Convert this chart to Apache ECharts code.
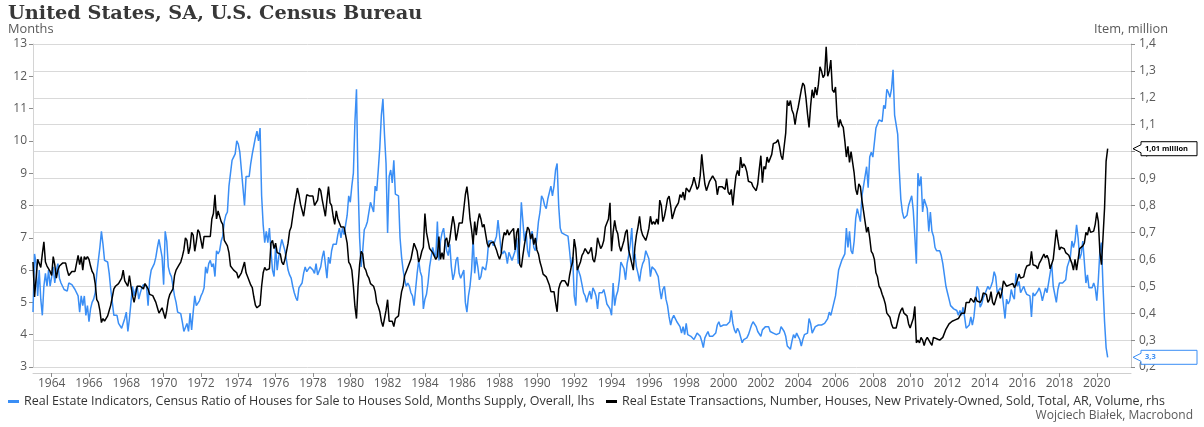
<!DOCTYPE html>
<html>
<head>
<meta charset="utf-8">
<script src="https://cdn.jsdelivr.net/npm/echarts@6/dist/echarts.min.js"></script>
<style>
  html, body { margin: 0; padding: 0; background: #fff; }
  #chart { width: 1204px; height: 427px; }
</style>
</head>
<body>
<div id="chart"></div>
<script>
// months supply (lhs), one row per year from 1963
var monthsSupply = [
  4.7, 6.5, 6.2, 5.2, 6.0, 5.1, 4.6, 5.5, 5.9, 5.5, 6.0, 5.5,
  5.8, 6.1, 5.6, 6.0, 6.2, 5.75, 5.6, 5.5, 5.4, 5.35, 5.35, 5.6,
  5.6, 5.55, 5.6, 5.4, 5.45, 5.2, 4.7, 5.2, 4.9, 5.2, 4.6, 4.9,
  4.4, 4.8, 5.0, 5.1, 5.3, 5.9, 5.9, 6.7, 7.2, 6.8, 6.3, 6.3,
  6.25, 5.9, 5.4, 5.0, 4.6, 4.6, 4.6, 4.35, 4.35, 4.2, 4.15, 4.5,
  4.7, 4.1, 4.5, 5.0, 5.5, 5.2, 5.4, 5.5, 5.1, 5.3, 5.45, 5.55,
  5.5, 5.5, 4.9, 5.7, 6.0, 6.1, 6.2, 6.4, 6.7, 6.95, 7.0, 6.4,
  5.55, 7.2, 6.9, 6.1, 5.9, 5.8, 5.5, 5.2, 5.0, 4.7, 4.65, 4.65,
  4.4, 4.1, 4.05, 4.35, 4.1, 4.67, 4.15, 4.7, 5.2, 4.9, 4.9, 5.05,
  5.2, 5.3, 5.45, 6.1, 5.9, 6.2, 6.3, 6.1, 6.2, 5.8, 6.6, 6.5,
  6.6, 6.9, 7.05, 7.5, 7.7, 7.8, 8.6, 9.0, 9.4, 9.5, 9.6, 10.0,
  9.9, 9.65, 9.1, 9.1, 8.0, 8.9, 8.9, 8.9, 9.3, 9.6, 9.85, 10.1,
  10.3, 10.0, 10.4, 8.3, 7.4, 6.85, 7.2, 6.85, 7.3, 6.6, 6.0, 5.8,
  6.75, 6.0, 6.4, 6.7, 6.95, 6.9, 6.6, 6.3, 6.0, 5.85, 5.75, 5.5,
  5.3, 5.15, 5.05, 5.45, 5.5, 5.6, 5.9, 6.1, 5.95, 6.0, 6.1, 6.05,
  6.0, 5.9, 6.2, 5.85, 5.9, 6.1, 6.4, 6.6, 6.55, 5.75, 6.4, 6.2,
  6.6, 6.8, 6.8, 6.8, 7.1, 7.3, 7.0, 7.3, 7.1, 7.4, 7.7, 8.3,
  8.1, 8.6, 9.0, 10.6, 11.6, 8.7, 7.0, 6.1, 6.6, 7.25, 7.35, 7.5,
  7.8, 8.1, 8.15, 7.8, 8.6, 8.45, 9.1, 9.8, 10.8, 11.3, 10.2, 9.3,
  7.15, 8.9, 9.1, 8.7, 9.4, 8.35, 8.35, 8.3, 7.0, 6.4, 6.0, 5.7,
  5.5, 5.6, 5.5, 5.3, 5.2, 4.9, 5.4, 5.9, 6.3, 5.95, 5.8, 4.8,
  5.1, 5.25, 5.6, 6.1, 6.1, 6.7, 6.5, 6.4, 7.5, 6.3, 6.9, 7.15,
  7.3, 6.9, 6.6, 6.45, 6.8, 6.1, 5.7, 5.9, 6.3, 6.4, 5.9, 5.75,
  5.75, 6.0, 5.0, 4.7, 5.2, 5.5, 6.0, 7.0, 5.9, 6.4, 6.1, 5.7,
  5.8, 6.1, 6.1, 6.0, 6.3, 6.9, 6.85, 6.9, 6.75, 6.9, 7.05, 7.55,
  7.5, 6.6, 6.5, 6.6, 6.5, 6.2, 6.55, 6.5, 6.3, 6.25, 6.6, 7.0,
  6.2, 6.9, 8.1, 7.5, 6.9, 7.2, 6.6, 6.4, 7.1, 7.2, 6.7, 6.6,
  7.0, 7.5, 7.8, 8.3, 8.2, 8.0, 7.9, 8.2, 8.4, 8.6, 8.3, 8.6,
  9.1, 9.3, 8.0, 7.3, 7.15, 7.1, 7.1, 7.1, 7.05, 6.6, 6.1, 6.4,
  5.2, 4.9, 6.1, 6.05, 5.8, 5.85, 5.3, 5.2, 5.0, 5.2, 5.35, 5.1,
  5.45, 5.35, 5.2, 4.8, 5.3, 5.25, 5.3, 5.4, 5.2, 4.95, 4.9, 4.8,
  4.6, 5.6, 4.9, 5.2, 5.35, 5.7, 6.25, 6.2, 6.05, 5.7, 6.2, 6.45,
  6.8, 7.3, 6.3, 6.5, 6.1, 5.9, 5.65, 6.0, 6.2, 6.3, 6.6, 6.6,
  6.35, 5.8, 6.1, 6.1, 6.0, 6.0, 5.8, 5.4, 5.1, 5.4, 5.5, 5.1,
  4.9, 4.55, 4.3, 4.5, 4.6, 4.5, 4.4, 4.35, 4.25, 4.05, 4.25, 4.0,
  4.35, 4.0, 4.05, 3.95, 3.9, 3.85, 3.95, 4.05, 4.05, 3.95, 3.8, 3.6,
  3.9, 4.0, 4.1, 3.95, 4.0, 3.95, 4.0, 4.05, 4.3, 4.4, 4.25, 4.3,
  4.3, 4.3, 4.3, 4.35, 4.4, 4.75, 4.35, 4.15, 4.05, 4.2, 4.1, 4.1,
  3.75, 3.85, 3.8, 3.9, 4.0, 4.15, 4.3, 4.4, 4.35, 4.25, 4.1, 4.1,
  3.95, 4.15, 4.1, 4.25, 4.2, 4.25, 4.1, 4.15, 4.05, 4.0, 4.0, 4.0,
  4.05, 4.25, 4.3, 4.1, 3.95, 3.65, 3.65, 3.55, 3.8, 4.0, 3.9, 4.05,
  3.95, 3.85, 3.65, 3.85, 4.0, 3.95, 4.05, 4.5, 4.35, 4.05, 4.05, 4.25,
  4.2, 4.3, 4.25, 4.3, 4.25, 4.35, 4.3, 4.5, 4.7, 4.6, 4.8, 5.0,
  5.2, 5.6, 6.0, 5.95, 6.3, 6.3, 6.5, 7.3, 6.7, 7.2, 6.6, 6.5,
  6.9, 7.6, 7.9, 7.7, 7.5, 8.3, 8.6, 8.6, 9.2, 8.55, 9.5, 9.65,
  9.5, 9.55, 10.4, 10.35, 10.65, 10.7, 10.6, 11.1, 11.0, 11.6, 11.5, 11.35,
  11.6, 12.2, 10.8, 10.85, 10.2, 9.1, 8.2, 7.8, 7.6, 7.6, 7.7, 8.0,
  8.05, 8.3, 7.85, 7.05, 6.2, 9.0, 8.6, 8.9, 7.8, 8.2, 8.25, 7.9,
  7.2, 7.8, 7.2, 7.05, 6.7, 6.6, 6.65, 6.6, 6.45, 6.2, 5.85, 5.5,
  5.3, 5.1, 4.9, 4.85, 4.8, 4.8, 4.75, 4.6, 4.75, 4.6, 4.85, 4.55,
  4.2, 4.15, 4.3, 4.55, 4.3, 4.55, 4.6, 5.5, 5.4, 4.85, 4.95, 5.15,
  5.25, 5.2, 5.5, 5.4, 5.5, 5.65, 5.95, 5.8, 5.3, 5.25, 5.45, 5.35,
  5.3, 4.5, 5.1, 4.95, 5.05, 5.4, 5.2, 5.1, 5.9, 5.5, 5.65, 5.3,
  5.4, 5.5, 5.35, 5.25, 5.2, 5.2, 4.55, 5.3, 5.2, 5.2, 5.35, 5.45,
  5.3, 5.05, 5.25, 5.45, 5.3, 5.35, 5.9, 6.2, 5.5, 5.45, 5.0, 5.4,
  5.6, 5.55, 5.6, 5.65, 5.7, 6.1, 6.1, 6.4, 6.9, 6.7, 6.9, 7.4,
  7.0, 6.35, 6.5, 6.9, 6.9, 5.6, 5.85, 5.45, 5.4, 5.45, 5.6, 5.45,
  5.05, 5.7, 6.6, 6.85, 5.5, 4.4, 3.6, 3.3
];

// new houses sold, million, annual rate (rhs)
var newHomeSales = [
  0.59, 0.46, 0.46, 0.6, 0.585, 0.57, 0.62, 0.665, 0.59, 0.575, 0.575, 0.555,
  0.54, 0.61, 0.58, 0.53, 0.56, 0.575, 0.58, 0.586, 0.59, 0.586, 0.56, 0.54,
  0.535, 0.555, 0.56, 0.555, 0.55, 0.615, 0.58, 0.61, 0.56, 0.61, 0.6, 0.61,
  0.6, 0.575, 0.555, 0.545, 0.51, 0.45, 0.44, 0.41, 0.365, 0.38, 0.37, 0.375,
  0.39, 0.41, 0.43, 0.46, 0.49, 0.5, 0.5, 0.51, 0.52, 0.53, 0.56, 0.52,
  0.51, 0.5, 0.54, 0.5, 0.465, 0.44, 0.47, 0.5, 0.495, 0.5, 0.5, 0.49,
  0.51, 0.5, 0.49, 0.47, 0.465, 0.465, 0.46, 0.44, 0.42, 0.4, 0.4, 0.42,
  0.425, 0.38, 0.41, 0.45, 0.47, 0.48, 0.49, 0.54, 0.56, 0.56, 0.58, 0.59,
  0.61, 0.635, 0.68, 0.67, 0.62, 0.645, 0.7, 0.69, 0.63, 0.665, 0.71, 0.7,
  0.7, 0.64, 0.685, 0.68, 0.685, 0.685, 0.685, 0.75, 0.77, 0.84, 0.75, 0.78,
  0.78, 0.74, 0.73, 0.67, 0.66, 0.65, 0.625, 0.575, 0.57, 0.56, 0.56, 0.55,
  0.53, 0.525, 0.55, 0.55, 0.59, 0.55, 0.535, 0.53, 0.505, 0.495, 0.46, 0.43,
  0.42, 0.42, 0.43, 0.5, 0.55, 0.57, 0.56, 0.565, 0.565, 0.66, 0.67, 0.64,
  0.66, 0.625, 0.62, 0.62, 0.59, 0.58, 0.6, 0.6, 0.66, 0.705, 0.72, 0.76,
  0.8, 0.83, 0.865, 0.84, 0.805, 0.805, 0.76, 0.8, 0.84, 0.835, 0.835, 0.835,
  0.835, 0.8, 0.805, 0.82, 0.865, 0.855, 0.82, 0.79, 0.76, 0.82, 0.87, 0.81,
  0.8, 0.76, 0.73, 0.78, 0.75, 0.735, 0.72, 0.725, 0.72, 0.725, 0.66, 0.59,
  0.58, 0.56, 0.5, 0.425, 0.38, 0.5, 0.58, 0.63, 0.62, 0.57, 0.56, 0.54,
  0.53, 0.51, 0.51, 0.5, 0.48, 0.44, 0.425, 0.405, 0.37, 0.35, 0.38, 0.41,
  0.45, 0.37, 0.37, 0.37, 0.35, 0.38, 0.375, 0.39, 0.44, 0.48, 0.5, 0.54,
  0.555, 0.57, 0.565, 0.6, 0.63, 0.66, 0.66, 0.63, 0.59, 0.605, 0.63, 0.645,
  0.77, 0.7, 0.695, 0.64, 0.64, 0.625, 0.62, 0.6, 0.61, 0.685, 0.6, 0.625,
  0.6, 0.67, 0.68, 0.645, 0.675, 0.72, 0.76, 0.73, 0.67, 0.7, 0.735, 0.735,
  0.735, 0.735, 0.84, 0.87, 0.82, 0.75, 0.71, 0.655, 0.74, 0.69, 0.74, 0.77,
  0.75, 0.72, 0.73, 0.73, 0.66, 0.645, 0.66, 0.66, 0.665, 0.66, 0.635, 0.615,
  0.6, 0.62, 0.67, 0.7, 0.69, 0.71, 0.69, 0.7, 0.705, 0.715, 0.635, 0.7,
  0.715, 0.58, 0.57, 0.615, 0.655, 0.65, 0.72, 0.71, 0.675, 0.695, 0.655, 0.68,
  0.635, 0.62, 0.59, 0.57, 0.545, 0.54, 0.535, 0.53, 0.505, 0.48, 0.48, 0.48,
  0.44, 0.405, 0.49, 0.51, 0.52, 0.52, 0.52, 0.525, 0.5, 0.54, 0.57, 0.59,
  0.675, 0.64, 0.56, 0.555, 0.59, 0.615, 0.625, 0.64, 0.645, 0.62, 0.63, 0.645,
  0.6, 0.59, 0.62, 0.68, 0.66, 0.64, 0.65, 0.67, 0.72, 0.735, 0.75, 0.81,
  0.63, 0.7, 0.745, 0.71, 0.695, 0.65, 0.63, 0.65, 0.67, 0.7, 0.71, 0.635,
  0.61, 0.585, 0.56, 0.645, 0.69, 0.72, 0.76, 0.71, 0.69, 0.69, 0.67, 0.69,
  0.715, 0.76, 0.73, 0.74, 0.73, 0.75, 0.73, 0.82, 0.8, 0.74, 0.76, 0.79,
  0.825, 0.835, 0.8, 0.75, 0.77, 0.79, 0.8, 0.81, 0.84, 0.83, 0.85, 0.82,
  0.865, 0.865, 0.85, 0.855, 0.88, 0.905, 0.9, 0.86, 0.87, 0.91, 0.99, 0.93,
  0.88, 0.855, 0.86, 0.89, 0.9, 0.91, 0.91, 0.89, 0.84, 0.87, 0.87, 0.87,
  0.865, 0.86, 0.9, 0.85, 0.84, 0.86, 0.8, 0.86, 0.91, 0.93, 0.91, 0.98,
  0.94, 0.955, 0.945, 0.925, 0.89, 0.885, 0.885, 0.87, 0.865, 0.855, 0.88, 0.935,
  0.985, 0.885, 0.945, 0.935, 0.98, 0.96, 0.965, 0.99, 1.03, 1.025, 1.035, 1.045,
  1.02, 0.985, 0.97, 1.02, 1.07, 1.19, 1.17, 1.19, 1.155, 1.14, 1.1, 1.14,
  1.165, 1.17, 1.23, 1.255, 1.245, 1.2, 1.14, 1.09, 1.17, 1.23, 1.2, 1.24,
  1.21, 1.25, 1.315, 1.3, 1.275, 1.285, 1.39, 1.28, 1.3, 1.34, 1.23, 1.22,
  1.24, 1.13, 1.09, 1.12, 1.1, 1.09, 1.04, 0.98, 1.02, 0.96, 1.0, 1.0,
  0.92, 0.86, 0.84, 0.88, 0.87, 0.82, 0.78, 0.74, 0.7, 0.72, 0.68, 0.63,
  0.62, 0.6, 0.55, 0.535, 0.5, 0.49, 0.47, 0.455, 0.435, 0.4, 0.395, 0.385,
  0.36, 0.345, 0.35, 0.345, 0.37, 0.395, 0.41, 0.42, 0.4, 0.395, 0.39, 0.36,
  0.345, 0.35, 0.38, 0.425, 0.29, 0.3, 0.29, 0.31, 0.3, 0.28, 0.3, 0.31,
  0.31, 0.29, 0.28, 0.31, 0.305, 0.305, 0.3, 0.3, 0.305, 0.31, 0.31, 0.34,
  0.345, 0.36, 0.36, 0.37, 0.365, 0.375, 0.37, 0.38, 0.39, 0.4, 0.405, 0.4,
  0.44, 0.44, 0.44, 0.455, 0.45, 0.44, 0.46, 0.445, 0.45, 0.44, 0.45, 0.475,
  0.475, 0.47, 0.44, 0.45, 0.48, 0.44, 0.43, 0.45, 0.47, 0.48, 0.455, 0.48,
  0.52, 0.52, 0.5, 0.495, 0.505, 0.5, 0.51, 0.495, 0.505, 0.51, 0.545, 0.53,
  0.53, 0.535, 0.56, 0.575, 0.57, 0.58, 0.63, 0.58, 0.575, 0.575, 0.565, 0.585,
  0.595, 0.59, 0.62, 0.605, 0.615, 0.6, 0.565, 0.56, 0.6, 0.605, 0.71, 0.67,
  0.635, 0.645, 0.64, 0.64, 0.625, 0.625, 0.615, 0.61, 0.585, 0.56, 0.6, 0.56,
  0.6, 0.64, 0.645, 0.65, 0.66, 0.7, 0.69, 0.72, 0.7, 0.7, 0.705, 0.73,
  0.774, 0.741, 0.627, 0.58, 0.682, 0.791, 0.965, 1.011
];

var supplyName = 'Real Estate Indicators, Census Ratio of Houses for Sale to Houses Sold, Months Supply, Overall, lhs';
var salesName = 'Real Estate Transactions, Number, Houses, New Privately-Owned, Sold, Total, AR, Volume, rhs';

// monthly categories, axis runs a bit past the last observation
var months = [];
for (var y = 1963; y <= 2021; y++) {
  for (var m = 1; m <= 12; m++) {
    if (y == 2021 && m > 11) break;
    months.push(y + '-' + (m < 10 ? '0' + m : m));
  }
}

var blue = '#3a8ef5';
var grey = '#595959';
var font = 'Open Sans';

function evenJanuary(i, v) {
  return v.slice(5) == '01' && parseInt(v.slice(0, 4)) % 2 == 0;
}

function comma(v, d) {
  return v.toFixed(d).replace('.', ',');
}

var chart = echarts.init(document.getElementById('chart'));

chart.setOption({
  animation: false,
  backgroundColor: '#fff',
  textStyle: { fontFamily: font },
  title: [
    { text: 'United States, SA, U.S. Census Bureau', left: 8, top: 4, padding: 0,
      textStyle: { fontFamily: 'DejaVu Serif', fontWeight: 'bold', fontSize: 19.3, color: '#383838' } },
    { text: 'Months', left: 8, top: 23, padding: 0,
      textStyle: { fontFamily: font, fontWeight: 'normal', fontSize: 12.8, color: grey } },
    { text: 'Item, million', right: 36, top: 23, padding: 0,
      textStyle: { fontFamily: font, fontWeight: 'normal', fontSize: 12.8, color: grey } },
    { text: 'Wojciech Białek, Macrobond', right: 11, top: 410, padding: 0,
      textStyle: { fontFamily: font, fontWeight: 'normal', fontSize: 12, color: grey } }
  ],
  legend: [
    { data: [supplyName], left: 8, top: 395, padding: 0, itemWidth: 11, itemHeight: 3, itemGap: 0,
      icon: 'rect', textStyle: { fontFamily: font, fontSize: 12.5, color: '#333' } },
    { data: [salesName], left: 606, top: 395, padding: 0, itemWidth: 11, itemHeight: 3, itemGap: 0,
      icon: 'rect', textStyle: { fontFamily: font, fontSize: 12.5, color: '#333' } }
  ],
  grid: { left: 33, right: 73, top: 44, bottom: 60 },
  xAxis: {
    type: 'category',
    data: months,
    boundaryGap: false,
    offset: 6,
    axisLine: { lineStyle: { color: '#cfcfcf' } },
    axisTick: { show: true, interval: evenJanuary, length: 4, lineStyle: { color: '#8c8c8c' } },
    axisLabel: { interval: evenJanuary, margin: 5, fontSize: 12, color: grey,
      formatter: function (v) { return v.slice(0, 4); } },
    splitLine: { show: false }
  },
  yAxis: [
    {
      type: 'value', min: 3, max: 13, interval: 1, position: 'left',
      axisLine: { show: true, lineStyle: { color: '#d4d4d4' } },
      axisTick: { show: true, length: 4, lineStyle: { color: '#8c8c8c' } },
      axisLabel: { margin: 6, fontSize: 12, color: grey },
      splitLine: { show: false }
    },
    {
      type: 'value', min: 0.2, max: 1.4, interval: 0.1, position: 'right',
      axisLine: { show: true, lineStyle: { color: '#c4c4c4' } },
      axisTick: { show: true, length: 4, lineStyle: { color: '#8c8c8c' } },
      axisLabel: { margin: 8, fontSize: 12, color: grey,
        formatter: function (v) { return comma(v, 1); } },
      splitLine: { show: true, lineStyle: { color: '#d9d9d9', width: 1 } }
    }
  ],
  series: [
    { name: supplyName, type: 'line', yAxisIndex: 0, data: monthsSupply,
      showSymbol: false, symbol: 'none', color: blue, lineStyle: { color: blue, width: 1.5 } },
    { name: salesName, type: 'line', yAxisIndex: 1, data: newHomeSales,
      showSymbol: false, symbol: 'none', color: '#000', lineStyle: { color: '#000', width: 1.5 } }
  ]
});

// value callouts at the right axis
var axisX = chart.convertToPixel({ xAxisIndex: 0 }, months.length - 1);
function callout(yc, text, color) {
  var x0 = axisX + 2;
  return [
    { type: 'polygon', z: 100,
      shape: { points: [[x0, yc], [x0 + 8, yc - 4], [x0 + 8, yc - 7], [x0 + 64, yc - 7],
                        [x0 + 64, yc + 7], [x0 + 8, yc + 7], [x0 + 8, yc + 4]] },
      style: { fill: '#fff', stroke: color, lineWidth: 1 } },
    { type: 'text', z: 101, x: x0 + 12, y: yc,
      style: { text: text, fill: color, font: 'bold 7.5px ' + font, verticalAlign: 'middle' } }
  ];
}
var lastSales = newHomeSales[newHomeSales.length - 1];
var lastSupply = monthsSupply[monthsSupply.length - 1];
chart.setOption({
  graphic: callout(chart.convertToPixel({ yAxisIndex: 1 }, lastSales), comma(lastSales, 2) + ' million', '#000')
    .concat(callout(chart.convertToPixel({ yAxisIndex: 0 }, lastSupply), comma(lastSupply, 1), blue))
});
</script>
</body>
</html>
